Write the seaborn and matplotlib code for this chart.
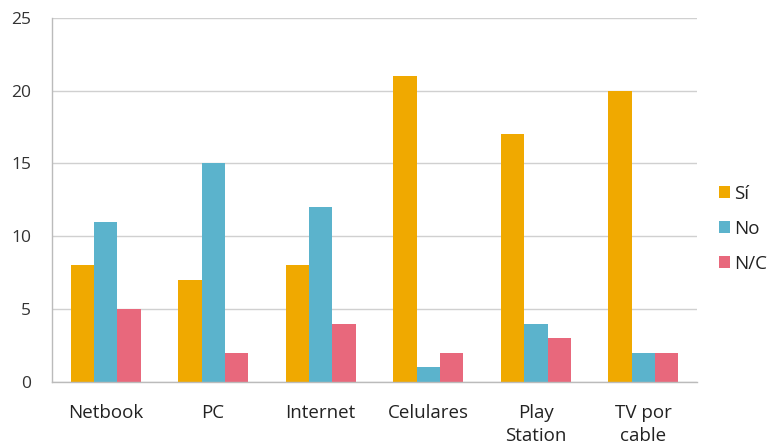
import matplotlib
matplotlib.use("Agg")
import matplotlib.pyplot as plt
import seaborn as sns
import pandas as pd
import numpy as np
from matplotlib.ticker import FixedLocator

categories = ["Netbook", "PC", "Internet", "Celulares", "Play\nStation", "TV por\ncable"]
si = [8, 7, 8, 21, 17, 20]
no = [11, 15, 12, 1, 4, 2]
nc = [5, 2, 4, 2, 3, 2]
series = ["Sí", "No", "N/C"]
colors = ["#F0A900", "#5BB3CC", "#E8687C"]
yticks = [0, 5, 10, 15, 20, 25]

rows = []
for c, a, b, d in zip(categories, si, no, nc):
    rows += [(c, "Sí", a), (c, "No", b), (c, "N/C", d)]
df = pd.DataFrame(rows, columns=["cat", "serie", "val"])

sns.set_theme(style="white")
plt.rcParams['font.family'] = ['Open Sans', 'DejaVu Sans']

fig = plt.figure(figsize=(7.73, 4.45), dpi=100)
ax = fig.add_axes([0.067, 0.142, 0.835, 0.818])
sns.barplot(data=df, x="cat", y="val", hue="serie", hue_order=series,
            palette=colors, width=0.65, saturation=1, ax=ax, edgecolor="none")

ax.set_ylim(0, 25)
ax.set_xlim(-0.5, len(categories) - 0.5)
ax.set_yticks(yticks)
ax.set_yticklabels([str(t) for t in yticks], fontsize=12.5, color="#333333")
ax.yaxis.grid(True, color="#D0D0D0", linewidth=1)
ax.set_axisbelow(True)
ax.set_xlabel("")
ax.set_ylabel("")
ax.tick_params(axis="x", which="major", length=0, labelsize=13.5, labelcolor="#222222", pad=16)
for lbl in ax.get_xticklabels():
    lbl.set_linespacing(1.35)
ax.xaxis.set_minor_locator(FixedLocator(np.arange(-0.5, len(categories), 1.0)))
ax.tick_params(axis="x", which="minor", length=5, color="#BBBBBB", width=1, direction="out")
ax.tick_params(axis="y", length=5, color="#BBBBBB", width=1, direction="out", pad=10)
for s in ["top", "right"]:
    ax.spines[s].set_visible(False)
for s in ["left", "bottom"]:
    ax.spines[s].set_color("#BBBBBB")
    ax.spines[s].set_linewidth(1)

leg = ax.legend(loc="center left", bbox_to_anchor=(1.033, 0.42), frameon=False,
                fontsize=13.5, handlelength=0.6, handleheight=0.6, handletextpad=0.25,
                labelspacing=0.9, borderaxespad=0, borderpad=0)
for t in leg.get_texts():
    t.set_color("#222222")

fig.savefig("out.png", dpi=100)
